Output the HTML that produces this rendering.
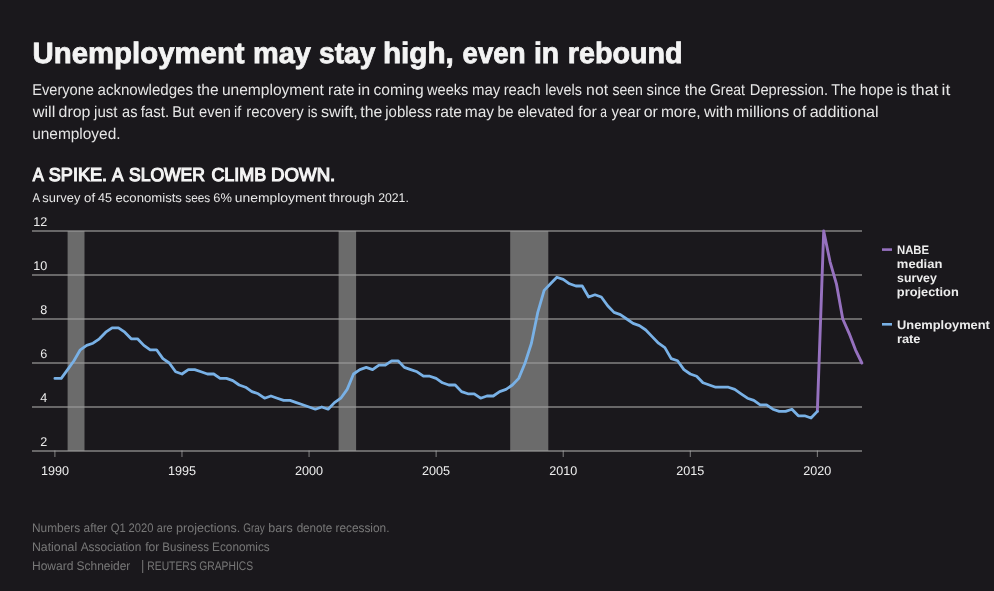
<!DOCTYPE html>
<html><head><meta charset="utf-8"><title>Unemployment may stay high, even in rebound</title><style>
html,body{margin:0;padding:0;background:#1a181c;width:994px;height:591px;overflow:hidden}
svg{display:block;font-family:"Liberation Sans", sans-serif;text-rendering:geometricPrecision;will-change:transform}
</style></head><body>
<svg width="994" height="591" viewBox="0 0 994 591">
<text x="32.55" y="62.6" fill="#f4f4f4" font-size="29.4" font-weight="700" stroke="#f4f4f4" stroke-width="0.8" textLength="212.06" lengthAdjust="spacingAndGlyphs">Unemployment</text>
<text x="252.97" y="62.6" fill="#f4f4f4" font-size="29.4" font-weight="700" stroke="#f4f4f4" stroke-width="0.8" textLength="57.93" lengthAdjust="spacingAndGlyphs">may</text>
<text x="318.94" y="62.6" fill="#f4f4f4" font-size="29.4" font-weight="700" stroke="#f4f4f4" stroke-width="0.8" textLength="56.47" lengthAdjust="spacingAndGlyphs">stay</text>
<text x="382.95" y="62.6" fill="#f4f4f4" font-size="29.4" font-weight="700" stroke="#f4f4f4" stroke-width="0.8" textLength="70.93" lengthAdjust="spacingAndGlyphs">high,</text>
<text x="462.52" y="62.6" fill="#f4f4f4" font-size="29.4" font-weight="700" stroke="#f4f4f4" stroke-width="0.8" textLength="63.05" lengthAdjust="spacingAndGlyphs">even</text>
<text x="533.91" y="62.6" fill="#f4f4f4" font-size="29.4" font-weight="700" stroke="#f4f4f4" stroke-width="0.8" textLength="25.17" lengthAdjust="spacingAndGlyphs">in</text>
<text x="567.78" y="62.6" fill="#f4f4f4" font-size="29.4" font-weight="700" stroke="#f4f4f4" stroke-width="0.8" textLength="114.92" lengthAdjust="spacingAndGlyphs">rebound</text>
<text x="32.20" y="95.1" fill="#e6e6e6" font-size="15.7" font-weight="400" textLength="61.81" lengthAdjust="spacingAndGlyphs">Everyone</text>
<text x="97.50" y="95.1" fill="#e6e6e6" font-size="15.7" font-weight="400" textLength="95.46" lengthAdjust="spacingAndGlyphs">acknowledges</text>
<text x="196.94" y="95.1" fill="#e6e6e6" font-size="15.7" font-weight="400" textLength="21.61" lengthAdjust="spacingAndGlyphs">the</text>
<text x="221.95" y="95.1" fill="#e6e6e6" font-size="15.7" font-weight="400" textLength="101.90" lengthAdjust="spacingAndGlyphs">unemployment</text>
<text x="328.05" y="95.1" fill="#e6e6e6" font-size="15.7" font-weight="400" textLength="26.38" lengthAdjust="spacingAndGlyphs">rate</text>
<text x="357.72" y="95.1" fill="#e6e6e6" font-size="15.7" font-weight="400" textLength="12.43" lengthAdjust="spacingAndGlyphs">in</text>
<text x="373.41" y="95.1" fill="#e6e6e6" font-size="15.7" font-weight="400" textLength="50.28" lengthAdjust="spacingAndGlyphs">coming</text>
<text x="427.07" y="95.1" fill="#e6e6e6" font-size="15.7" font-weight="400" textLength="41.31" lengthAdjust="spacingAndGlyphs">weeks</text>
<text x="471.96" y="95.1" fill="#e6e6e6" font-size="15.7" font-weight="400" textLength="28.30" lengthAdjust="spacingAndGlyphs">may</text>
<text x="503.67" y="95.1" fill="#e6e6e6" font-size="15.7" font-weight="400" textLength="37.15" lengthAdjust="spacingAndGlyphs">reach</text>
<text x="545.20" y="95.1" fill="#e6e6e6" font-size="15.7" font-weight="400" textLength="36.72" lengthAdjust="spacingAndGlyphs">levels</text>
<text x="586.12" y="95.1" fill="#e6e6e6" font-size="15.7" font-weight="400" textLength="21.94" lengthAdjust="spacingAndGlyphs">not</text>
<text x="612.41" y="95.1" fill="#e6e6e6" font-size="15.7" font-weight="400" textLength="30.49" lengthAdjust="spacingAndGlyphs">seen</text>
<text x="646.60" y="95.1" fill="#e6e6e6" font-size="15.7" font-weight="400" textLength="34.14" lengthAdjust="spacingAndGlyphs">since</text>
<text x="684.64" y="95.1" fill="#e6e6e6" font-size="15.7" font-weight="400" textLength="21.71" lengthAdjust="spacingAndGlyphs">the</text>
<text x="709.92" y="95.1" fill="#e6e6e6" font-size="15.7" font-weight="400" textLength="34.99" lengthAdjust="spacingAndGlyphs">Great</text>
<text x="749.80" y="95.1" fill="#e6e6e6" font-size="15.7" font-weight="400" textLength="78.29" lengthAdjust="spacingAndGlyphs">Depression.</text>
<text x="831.17" y="95.1" fill="#e6e6e6" font-size="15.7" font-weight="400" textLength="24.83" lengthAdjust="spacingAndGlyphs">The</text>
<text x="859.75" y="95.1" fill="#e6e6e6" font-size="15.7" font-weight="400" textLength="33.53" lengthAdjust="spacingAndGlyphs">hope</text>
<text x="896.81" y="95.1" fill="#e6e6e6" font-size="15.7" font-weight="400" textLength="10.35" lengthAdjust="spacingAndGlyphs">is</text>
<text x="911.04" y="95.1" fill="#e6e6e6" font-size="15.7" font-weight="400" textLength="27.28" lengthAdjust="spacingAndGlyphs">that</text>
<text x="941.54" y="95.1" fill="#e6e6e6" font-size="15.7" font-weight="400" textLength="8.72" lengthAdjust="spacingAndGlyphs">it</text>
<text x="32.68" y="117.0" fill="#e6e6e6" font-size="15.7" font-weight="400" textLength="22.62" lengthAdjust="spacingAndGlyphs">will</text>
<text x="58.61" y="117.0" fill="#e6e6e6" font-size="15.7" font-weight="400" textLength="31.73" lengthAdjust="spacingAndGlyphs">drop</text>
<text x="94.10" y="117.0" fill="#e6e6e6" font-size="15.7" font-weight="400" textLength="23.48" lengthAdjust="spacingAndGlyphs">just</text>
<text x="122.11" y="117.0" fill="#e6e6e6" font-size="15.7" font-weight="400" textLength="15.38" lengthAdjust="spacingAndGlyphs">as</text>
<text x="140.65" y="117.0" fill="#e6e6e6" font-size="15.7" font-weight="400" textLength="28.51" lengthAdjust="spacingAndGlyphs">fast.</text>
<text x="172.31" y="117.0" fill="#e6e6e6" font-size="15.7" font-weight="400" textLength="21.89" lengthAdjust="spacingAndGlyphs">But</text>
<text x="199.12" y="117.0" fill="#e6e6e6" font-size="15.7" font-weight="400" textLength="31.91" lengthAdjust="spacingAndGlyphs">even</text>
<text x="234.00" y="117.0" fill="#e6e6e6" font-size="15.7" font-weight="400" textLength="7.25" lengthAdjust="spacingAndGlyphs">if</text>
<text x="246.27" y="117.0" fill="#e6e6e6" font-size="15.7" font-weight="400" textLength="57.42" lengthAdjust="spacingAndGlyphs">recovery</text>
<text x="307.66" y="117.0" fill="#e6e6e6" font-size="15.7" font-weight="400" textLength="9.69" lengthAdjust="spacingAndGlyphs">is</text>
<text x="320.97" y="117.0" fill="#e6e6e6" font-size="15.7" font-weight="400" textLength="36.68" lengthAdjust="spacingAndGlyphs">swift,</text>
<text x="360.24" y="117.0" fill="#e6e6e6" font-size="15.7" font-weight="400" textLength="22.02" lengthAdjust="spacingAndGlyphs">the</text>
<text x="385.30" y="117.0" fill="#e6e6e6" font-size="15.7" font-weight="400" textLength="46.59" lengthAdjust="spacingAndGlyphs">jobless</text>
<text x="435.03" y="117.0" fill="#e6e6e6" font-size="15.7" font-weight="400" textLength="26.91" lengthAdjust="spacingAndGlyphs">rate</text>
<text x="464.83" y="117.0" fill="#e6e6e6" font-size="15.7" font-weight="400" textLength="29.23" lengthAdjust="spacingAndGlyphs">may</text>
<text x="497.51" y="117.0" fill="#e6e6e6" font-size="15.7" font-weight="400" textLength="16.07" lengthAdjust="spacingAndGlyphs">be</text>
<text x="517.52" y="117.0" fill="#e6e6e6" font-size="15.7" font-weight="400" textLength="56.29" lengthAdjust="spacingAndGlyphs">elevated</text>
<text x="578.35" y="117.0" fill="#e6e6e6" font-size="15.7" font-weight="400" textLength="18.47" lengthAdjust="spacingAndGlyphs">for</text>
<text x="600.20" y="117.0" fill="#e6e6e6" font-size="15.7" font-weight="400" textLength="6.72" lengthAdjust="spacingAndGlyphs">a</text>
<text x="611.51" y="117.0" fill="#e6e6e6" font-size="15.7" font-weight="400" textLength="29.15" lengthAdjust="spacingAndGlyphs">year</text>
<text x="643.65" y="117.0" fill="#e6e6e6" font-size="15.7" font-weight="400" textLength="14.11" lengthAdjust="spacingAndGlyphs">or</text>
<text x="660.93" y="117.0" fill="#e6e6e6" font-size="15.7" font-weight="400" textLength="39.74" lengthAdjust="spacingAndGlyphs">more,</text>
<text x="703.98" y="117.0" fill="#e6e6e6" font-size="15.7" font-weight="400" textLength="29.02" lengthAdjust="spacingAndGlyphs">with</text>
<text x="736.11" y="117.0" fill="#e6e6e6" font-size="15.7" font-weight="400" textLength="53.06" lengthAdjust="spacingAndGlyphs">millions</text>
<text x="792.84" y="117.0" fill="#e6e6e6" font-size="15.7" font-weight="400" textLength="13.26" lengthAdjust="spacingAndGlyphs">of</text>
<text x="809.66" y="117.0" fill="#e6e6e6" font-size="15.7" font-weight="400" textLength="68.98" lengthAdjust="spacingAndGlyphs">additional</text>
<text x="32.16" y="139.0" fill="#e6e6e6" font-size="15.7" font-weight="400" word-spacing="-1.3" textLength="88.38" lengthAdjust="spacingAndGlyphs">unemployed.</text>
<text x="32.69" y="181.1" fill="#f4f4f4" font-size="18.7" font-weight="400" stroke="#f4f4f4" stroke-width="1.15" textLength="11.05" lengthAdjust="spacingAndGlyphs">A</text>
<text x="48.81" y="181.1" fill="#f4f4f4" font-size="18.7" font-weight="400" stroke="#f4f4f4" stroke-width="1.15" textLength="58.29" lengthAdjust="spacingAndGlyphs">SPIKE.</text>
<text x="112.12" y="181.1" fill="#f4f4f4" font-size="18.7" font-weight="400" stroke="#f4f4f4" stroke-width="1.15" textLength="11.50" lengthAdjust="spacingAndGlyphs">A</text>
<text x="129.01" y="181.1" fill="#f4f4f4" font-size="18.7" font-weight="400" stroke="#f4f4f4" stroke-width="1.15" textLength="75.98" lengthAdjust="spacingAndGlyphs">SLOWER</text>
<text x="211.38" y="181.1" fill="#f4f4f4" font-size="18.7" font-weight="400" stroke="#f4f4f4" stroke-width="1.15" textLength="54.77" lengthAdjust="spacingAndGlyphs">CLIMB</text>
<text x="271.00" y="181.1" fill="#f4f4f4" font-size="18.7" font-weight="400" stroke="#f4f4f4" stroke-width="1.15" textLength="64.31" lengthAdjust="spacingAndGlyphs">DOWN.</text>
<text x="32.57" y="201.6" fill="#e6e6e6" font-size="12.6" font-weight="400" textLength="7.62" lengthAdjust="spacingAndGlyphs">A</text>
<text x="42.39" y="201.6" fill="#e6e6e6" font-size="12.6" font-weight="400" textLength="38.01" lengthAdjust="spacingAndGlyphs">survey</text>
<text x="84.10" y="201.6" fill="#e6e6e6" font-size="12.6" font-weight="400" textLength="10.97" lengthAdjust="spacingAndGlyphs">of</text>
<text x="98.03" y="201.6" fill="#e6e6e6" font-size="12.6" font-weight="400" textLength="13.93" lengthAdjust="spacingAndGlyphs">45</text>
<text x="115.48" y="201.6" fill="#e6e6e6" font-size="12.6" font-weight="400" textLength="66.46" lengthAdjust="spacingAndGlyphs">economists</text>
<text x="185.22" y="201.6" fill="#e6e6e6" font-size="12.6" font-weight="400" textLength="24.97" lengthAdjust="spacingAndGlyphs">sees</text>
<text x="213.37" y="201.6" fill="#e6e6e6" font-size="12.6" font-weight="400" textLength="18.58" lengthAdjust="spacingAndGlyphs">6%</text>
<text x="234.79" y="201.6" fill="#e6e6e6" font-size="12.6" font-weight="400" textLength="90.97" lengthAdjust="spacingAndGlyphs">unemployment</text>
<text x="328.87" y="201.6" fill="#e6e6e6" font-size="12.6" font-weight="400" textLength="45.96" lengthAdjust="spacingAndGlyphs">through</text>
<text x="378.15" y="201.6" fill="#e6e6e6" font-size="12.6" font-weight="400" textLength="30.70" lengthAdjust="spacingAndGlyphs">2021.</text>
<text x="897.00" y="253.5" fill="#ececec" font-size="12.2" font-weight="700" textLength="32.10" lengthAdjust="spacingAndGlyphs">NABE</text>
<text x="896.89" y="267.6" fill="#ececec" font-size="12.2" font-weight="700" textLength="45.48" lengthAdjust="spacingAndGlyphs">median</text>
<text x="897.07" y="281.6" fill="#ececec" font-size="12.2" font-weight="700" textLength="39.78" lengthAdjust="spacingAndGlyphs">survey</text>
<text x="896.89" y="295.6" fill="#ececec" font-size="12.2" font-weight="700" textLength="61.90" lengthAdjust="spacingAndGlyphs">projection</text>
<text x="897.04" y="328.9" fill="#ececec" font-size="12.2" font-weight="700" textLength="92.88" lengthAdjust="spacingAndGlyphs">Unemployment</text>
<text x="896.90" y="342.9" fill="#ececec" font-size="12.2" font-weight="700" textLength="23.60" lengthAdjust="spacingAndGlyphs">rate</text>
<text x="31.98" y="531.7" fill="#787878" font-size="12.4" font-weight="400" textLength="48.26" lengthAdjust="spacingAndGlyphs">Numbers</text>
<text x="83.58" y="531.7" fill="#787878" font-size="12.4" font-weight="400" textLength="23.71" lengthAdjust="spacingAndGlyphs">after</text>
<text x="110.80" y="531.7" fill="#787878" font-size="12.4" font-weight="400" textLength="15.02" lengthAdjust="spacingAndGlyphs">Q1</text>
<text x="128.61" y="531.7" fill="#787878" font-size="12.4" font-weight="400" textLength="24.86" lengthAdjust="spacingAndGlyphs">2020</text>
<text x="156.80" y="531.7" fill="#787878" font-size="12.4" font-weight="400" textLength="15.84" lengthAdjust="spacingAndGlyphs">are</text>
<text x="176.03" y="531.7" fill="#787878" font-size="12.4" font-weight="400" textLength="64.18" lengthAdjust="spacingAndGlyphs">projections.</text>
<text x="243.29" y="531.7" fill="#787878" font-size="12.4" font-weight="400" textLength="21.57" lengthAdjust="spacingAndGlyphs">Gray</text>
<text x="268.34" y="531.7" fill="#787878" font-size="12.4" font-weight="400" textLength="24.35" lengthAdjust="spacingAndGlyphs">bars</text>
<text x="296.63" y="531.7" fill="#787878" font-size="12.4" font-weight="400" textLength="35.72" lengthAdjust="spacingAndGlyphs">denote</text>
<text x="335.44" y="531.7" fill="#787878" font-size="12.4" font-weight="400" textLength="54.04" lengthAdjust="spacingAndGlyphs">recession.</text>
<text x="31.95" y="550.6" fill="#787878" font-size="12.4" font-weight="400" textLength="45.21" lengthAdjust="spacingAndGlyphs">National</text>
<text x="80.66" y="550.6" fill="#787878" font-size="12.4" font-weight="400" textLength="60.64" lengthAdjust="spacingAndGlyphs">Association</text>
<text x="145.20" y="550.6" fill="#787878" font-size="12.4" font-weight="400" textLength="14.16" lengthAdjust="spacingAndGlyphs">for</text>
<text x="162.31" y="550.6" fill="#787878" font-size="12.4" font-weight="400" textLength="46.74" lengthAdjust="spacingAndGlyphs">Business</text>
<text x="212.09" y="550.6" fill="#787878" font-size="12.4" font-weight="400" textLength="57.67" lengthAdjust="spacingAndGlyphs">Economics</text>
<text x="31.97" y="569.6" fill="#787878" font-size="12.4" font-weight="400" textLength="41.53" lengthAdjust="spacingAndGlyphs">Howard</text>
<text x="76.62" y="569.6" fill="#787878" font-size="12.4" font-weight="400" textLength="53.67" lengthAdjust="spacingAndGlyphs">Schneider</text>
<text x="147.29" y="569.6" fill="#787878" font-size="12.4" font-weight="400" textLength="49.38" lengthAdjust="spacingAndGlyphs">REUTERS</text>
<text x="199.27" y="569.6" fill="#787878" font-size="12.4" font-weight="400" textLength="53.85" lengthAdjust="spacingAndGlyphs">GRAPHICS</text>
<rect x="67.6" y="231" width="16.9" height="220" fill="#6b6b6b"/>
<rect x="338.6" y="231" width="17.5" height="220" fill="#6b6b6b"/>
<rect x="510.2" y="231" width="38.1" height="220" fill="#6b6b6b"/>
<rect x="32" y="230.00" width="830" height="2" fill="#999" fill-opacity="0.614"/>
<text x="47.3" y="226" font-size="12.6" fill="#ececec" text-anchor="end">12</text>
<rect x="32" y="274.00" width="830" height="2" fill="#999" fill-opacity="0.614"/>
<text x="47.3" y="270" font-size="12.6" fill="#ececec" text-anchor="end">10</text>
<rect x="32" y="318.00" width="830" height="2" fill="#999" fill-opacity="0.614"/>
<text x="47.3" y="314" font-size="12.6" fill="#ececec" text-anchor="end">8</text>
<rect x="32" y="362.00" width="830" height="2" fill="#999" fill-opacity="0.614"/>
<text x="47.3" y="358" font-size="12.6" fill="#ececec" text-anchor="end">6</text>
<rect x="32" y="406.00" width="830" height="2" fill="#999" fill-opacity="0.614"/>
<text x="47.3" y="402" font-size="12.6" fill="#ececec" text-anchor="end">4</text>
<rect x="32" y="450.00" width="830" height="2" fill="#999" fill-opacity="0.614"/>
<text x="47.3" y="446" font-size="12.6" fill="#ececec" text-anchor="end">2</text>
<rect x="54.40" y="450.5" width="1" height="6.5" fill="#aaa" fill-opacity="0.72"/>
<text x="54.90" y="475" font-size="12.6" fill="#ececec" text-anchor="middle">1990</text>
<rect x="181.47" y="450.5" width="1" height="6.5" fill="#aaa" fill-opacity="0.72"/>
<text x="181.97" y="475" font-size="12.6" fill="#ececec" text-anchor="middle">1995</text>
<rect x="308.55" y="450.5" width="1" height="6.5" fill="#aaa" fill-opacity="0.72"/>
<text x="309.05" y="475" font-size="12.6" fill="#ececec" text-anchor="middle">2000</text>
<rect x="435.62" y="450.5" width="1" height="6.5" fill="#aaa" fill-opacity="0.72"/>
<text x="436.12" y="475" font-size="12.6" fill="#ececec" text-anchor="middle">2005</text>
<rect x="562.70" y="450.5" width="1" height="6.5" fill="#aaa" fill-opacity="0.72"/>
<text x="563.20" y="475" font-size="12.6" fill="#ececec" text-anchor="middle">2010</text>
<rect x="689.77" y="450.5" width="1" height="6.5" fill="#aaa" fill-opacity="0.72"/>
<text x="690.27" y="475" font-size="12.6" fill="#ececec" text-anchor="middle">2015</text>
<rect x="816.85" y="450.5" width="1" height="6.5" fill="#aaa" fill-opacity="0.72"/>
<text x="817.35" y="475" font-size="12.6" fill="#ececec" text-anchor="middle">2020</text>
<polyline points="817.35,411.40 823.70,231.00 830.06,261.80 836.41,283.80 842.76,319.00 849.12,333.30 855.47,349.80 861.83,363.00" fill="none" stroke="#9671bf" stroke-width="2.9" stroke-linejoin="round" stroke-linecap="round"/>
<polyline points="54.90,378.40 61.25,378.40 67.61,369.60 73.96,360.80 80.31,349.80 86.67,345.40 93.02,343.20 99.38,338.80 105.73,332.20 112.08,327.80 118.44,327.80 124.79,332.20 131.15,338.80 137.50,338.80 143.85,345.40 150.21,349.80 156.56,349.80 162.91,358.60 169.27,363.00 175.62,371.80 181.97,374.00 188.33,369.60 194.68,369.60 201.04,371.80 207.39,374.00 213.74,374.00 220.10,378.40 226.45,378.40 232.81,380.60 239.16,385.00 245.51,387.20 251.87,391.60 258.22,393.80 264.57,398.20 270.93,396.00 277.28,398.20 283.63,400.40 289.99,400.40 296.34,402.60 302.70,404.80 309.05,407.00 315.40,409.20 321.76,407.00 328.11,409.20 334.46,402.60 340.82,398.20 347.17,389.40 353.53,374.00 359.88,369.60 366.23,367.40 372.59,369.60 378.94,365.20 385.29,365.20 391.65,360.80 398.00,360.80 404.36,367.40 410.71,369.60 417.06,371.80 423.42,376.20 429.77,376.20 436.12,378.40 442.48,382.80 448.83,385.00 455.19,385.00 461.54,391.60 467.89,393.80 474.25,393.80 480.60,398.20 486.95,396.00 493.31,396.00 499.66,391.60 506.02,389.40 512.37,385.00 518.72,378.40 525.08,363.00 531.43,343.20 537.78,312.40 544.14,290.40 550.49,283.80 556.85,277.20 563.20,279.40 569.55,283.80 575.91,286.00 582.26,286.00 588.62,297.00 594.97,294.80 601.32,297.00 607.68,305.80 614.03,312.40 620.38,314.60 626.74,319.00 633.09,323.40 639.44,325.60 645.80,330.00 652.15,336.60 658.51,343.20 664.86,347.60 671.21,358.60 677.57,360.80 683.92,369.60 690.27,374.00 696.63,376.20 702.98,382.80 709.34,385.00 715.69,387.20 722.04,387.20 728.40,387.20 734.75,389.40 741.10,393.80 747.46,398.20 753.81,400.40 760.17,404.80 766.52,404.80 772.87,409.20 779.23,411.40 785.58,411.40 791.93,409.20 798.29,415.80 804.64,415.80 811.00,418.00 817.35,411.40" fill="none" stroke="#79b1e6" stroke-width="2.8" stroke-linejoin="round" stroke-linecap="round"/>
<rect x="882" y="248.3" width="10" height="2.6" fill="#9671bf"/>
<rect x="882" y="323" width="10" height="2.6" fill="#79b1e6"/>
<rect x="142.2" y="560" width="1" height="13" fill="#787878"/>
</svg>
</body></html>
